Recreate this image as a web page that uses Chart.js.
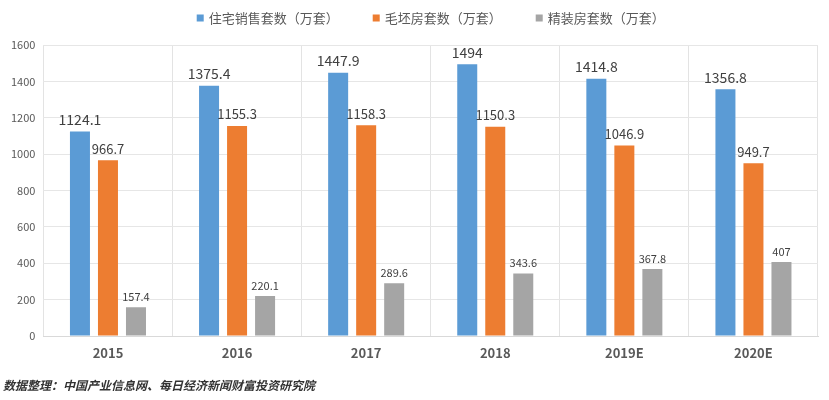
<!DOCTYPE html>
<html>
<head>
<meta charset="utf-8">
<script src="https://cdn.jsdelivr.net/npm/chart.js@4/dist/chart.umd.min.js"></script>
<style>
html,body{margin:0;padding:0;background:#fff;}
#wrap{width:829px;height:400px;position:relative;}
</style>
</head>
<body>
<div id="wrap"><canvas id="c"></canvas></div>
<script>
const categories = ['2015', '2016', '2017', '2018', '2019E', '2020E'];
const seriesNames = ['住宅销售套数（万套）', '毛坯房套数（万套）', '精装房套数（万套）'];
const housingSales = [1124.1, 1375.4, 1447.9, 1494, 1414.8, 1356.8];
const roughHouses = [966.7, 1155.3, 1158.3, 1150.3, 1046.9, 949.7];
const finishedHouses = [157.4, 220.1, 289.6, 343.6, 367.8, 407];
const yTicks = [0, 200, 400, 600, 800, 1000, 1200, 1400, 1600];
const sourceNote = '数据整理：中国产业信息网、每日经济新闻财富投资研究院';

const FONT = "'Noto Sans CJK SC', 'Noto Sans', sans-serif";
const colors = ['#5B9BD5', '#ED7D31', '#A5A5A5'];
const labelSizes = [14, 13, 11];

const valueLabels = {
  id: 'valueLabels',
  afterDatasetsDraw(chart) {
    const ctx = chart.ctx;
    ctx.save();
    chart.data.datasets.forEach((ds, i) => {
      const meta = chart.getDatasetMeta(i);
      ctx.font = labelSizes[i] + 'px ' + FONT;
      ctx.fillStyle = '#404040';
      ctx.textAlign = 'center';
      ctx.textBaseline = 'bottom';
      meta.data.forEach((bar, j) => {
        ctx.fillText(String(ds.data[j]), bar.x, bar.y - 5);
      });
    });
    ctx.restore();
  }
};

const topLegend = {
  id: 'topLegend',
  afterDraw(chart) {
    const ctx = chart.ctx;
    ctx.save();
    ctx.font = '13px ' + FONT;
    ctx.textBaseline = 'middle';
    ctx.textAlign = 'left';
    const box = 7, gapBox = 5, gapItem = 34, y = 18;
    const ds = chart.data.datasets;
    const widths = ds.map(d => box + gapBox + ctx.measureText(d.label).width);
    const total = widths.reduce((a, b) => a + b, 0) + gapItem * (ds.length - 1);
    let x = (chart.chartArea.left + chart.chartArea.right) / 2 - total / 2;
    ds.forEach((d, i) => {
      ctx.fillStyle = d.backgroundColor;
      ctx.fillRect(x, y - box / 2, box, box);
      ctx.fillStyle = '#595959';
      ctx.fillText(d.label, x + box + gapBox, y);
      x += widths[i] + gapItem;
    });
    ctx.restore();
  }
};

new Chart(document.getElementById('c'), {
  type: 'bar',
  data: {
    labels: categories,
    datasets: [
      { label: seriesNames[0], data: housingSales, backgroundColor: colors[0] },
      { label: seriesNames[1], data: roughHouses, backgroundColor: colors[1] },
      { label: seriesNames[2], data: finishedHouses, backgroundColor: colors[2] }
    ]
  },
  options: {
    responsive: true,
    maintainAspectRatio: false,
    animation: false,
    datasets: { bar: { categoryPercentage: 0.651, barPercentage: 0.714 } },
    layout: { padding: { top: 45, left: 3, right: 11, bottom: 2 } },
    plugins: {
      legend: { display: false },
      title: {
        display: true,
        position: 'bottom',
        align: 'start',
        text: sourceNote,
        color: '#333333',
        font: { family: FONT, size: 12, weight: 'bold', style: 'italic' },
        padding: { top: 9, bottom: 5 }
      },
      tooltip: { enabled: false }
    },
    scales: {
      x: {
        grid: { display: true, color: '#e3e3e3', drawTicks: false, offset: true },
        border: { display: true, color: '#d9d9d9' },
        ticks: { color: '#595959', padding: 9, font: { family: FONT, size: 13, weight: 'bold' } }
      },
      y: {
        min: 0, max: 1600,
        afterBuildTicks(axis) { axis.ticks = yTicks.map(v => ({ value: v })); },
        grid: { color: '#e6e6e6', drawTicks: false },
        border: { display: false },
        ticks: {
          color: '#595959', padding: 8, font: { family: FONT, size: 11 },
          callback: (v) => String(v)
        }
      }
    }
  },
  plugins: [valueLabels, topLegend]
});
</script>
</body>
</html>
